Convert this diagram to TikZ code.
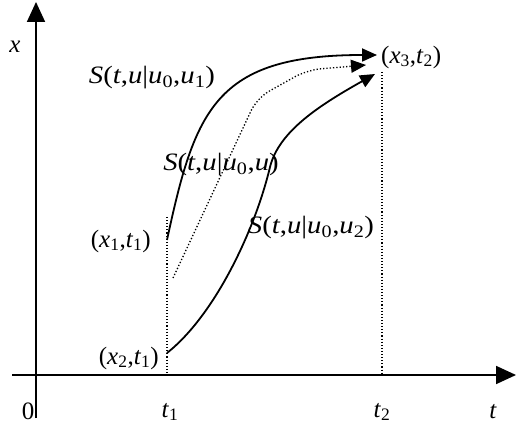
\documentclass[tikz,border=0pt]{standalone}
\usepackage{fontspec}
\setmainfont{Liberation Serif}
\usetikzlibrary{arrows.meta}
\newcommand{\iv}[1]{\textit{#1}}
\newcommand{\sbs}[1]{\textsubscript{#1}}
\newcommand{\wide}[1]{\scalebox{1.15}[1]{#1}}
\tikzset{
  lbl/.style={inner sep=0pt, font=\fontsize{25}{29}\selectfont},
  axis/.style={line width=1.8pt, -{Triangle[length=20pt,width=18pt]}},
  traj/.style={line width=1.8pt, -{Triangle[length=15pt,width=13pt]}},
  dtraj/.style={line width=1.3pt, dotted, -{Triangle[length=15pt,width=13pt]}},
  guide/.style={line width=1.1pt, dotted},
}
\begin{document}
\begin{tikzpicture}[x=1pt,y=-1pt]
\useasboundingbox (0,0) rectangle (519,427);
% axes
\coordinate (yb) at (36,418);
\coordinate (yt) at (36,2);
\coordinate (xl) at (12,375);
\coordinate (xr) at (516,375);
\draw[axis] (yb) -- (yt);
\draw[axis] (xl) -- (xr);
% guide lines
\coordinate (g1t) at (167,217);
\coordinate (g1b) at (167,375);
\coordinate (g2t) at (382,72);
\coordinate (g2b) at (382,375);
\draw[guide] (g1t) -- (g1b);
\draw[guide] (g2t) -- (g2b);
% points
\coordinate (p1) at (167,240);
\coordinate (p2) at (167,353);
\coordinate (p0) at (173,278);
\coordinate (q1) at (377,55);
\coordinate (q0) at (366,65);
\coordinate (q2) at (375,74);
% curves
\draw[traj] (p1) .. controls (195,110) and (215,55) .. (q1);
\draw[dtraj, rounded corners=14pt] (p0) -- (257,98) -- (307,70) -- (q0);
\draw[traj] (p2) .. controls (215,315) and (255,230) .. (270,167) .. controls (279,131) and (320,105) .. (q2);
% labels
\node[lbl] (lx) at (15,47) {\iv{x}};
\node[lbl] (l0) at (28,411) {0};
\node[lbl] (lt1) at (170,412) {\iv{t}\sbs{1}};
\node[lbl] (lt2) at (382,412) {\iv{t}\sbs{2}};
\node[lbl] (lt) at (493,412) {\iv{t}};
\node[lbl] (s1) at (152,78) {\wide{\iv{S}(\iv{t},\iv{u}|\iv{u}\sbs{0},\iv{u}\sbs{1})}};
\node[lbl] (s0) at (221,165) {\wide{\iv{S}(\iv{t},\iv{u}|\iv{u}\sbs{0},\iv{u})}};
\node[lbl] (s2) at (311,228) {\wide{\iv{S}(\iv{t},\iv{u}|\iv{u}\sbs{0},\iv{u}\sbs{2})}};
\node[lbl, anchor=west] (c3) at (381,57) {(\iv{x}\sbs{3},\iv{t}\sbs{2})};
\node[lbl, anchor=east] (c1) at (151,241) {(\iv{x}\sbs{1},\iv{t}\sbs{1})};
\node[lbl, anchor=east] (c2) at (159,358) {(\iv{x}\sbs{2},\iv{t}\sbs{1})};
\end{tikzpicture}
\end{document}
